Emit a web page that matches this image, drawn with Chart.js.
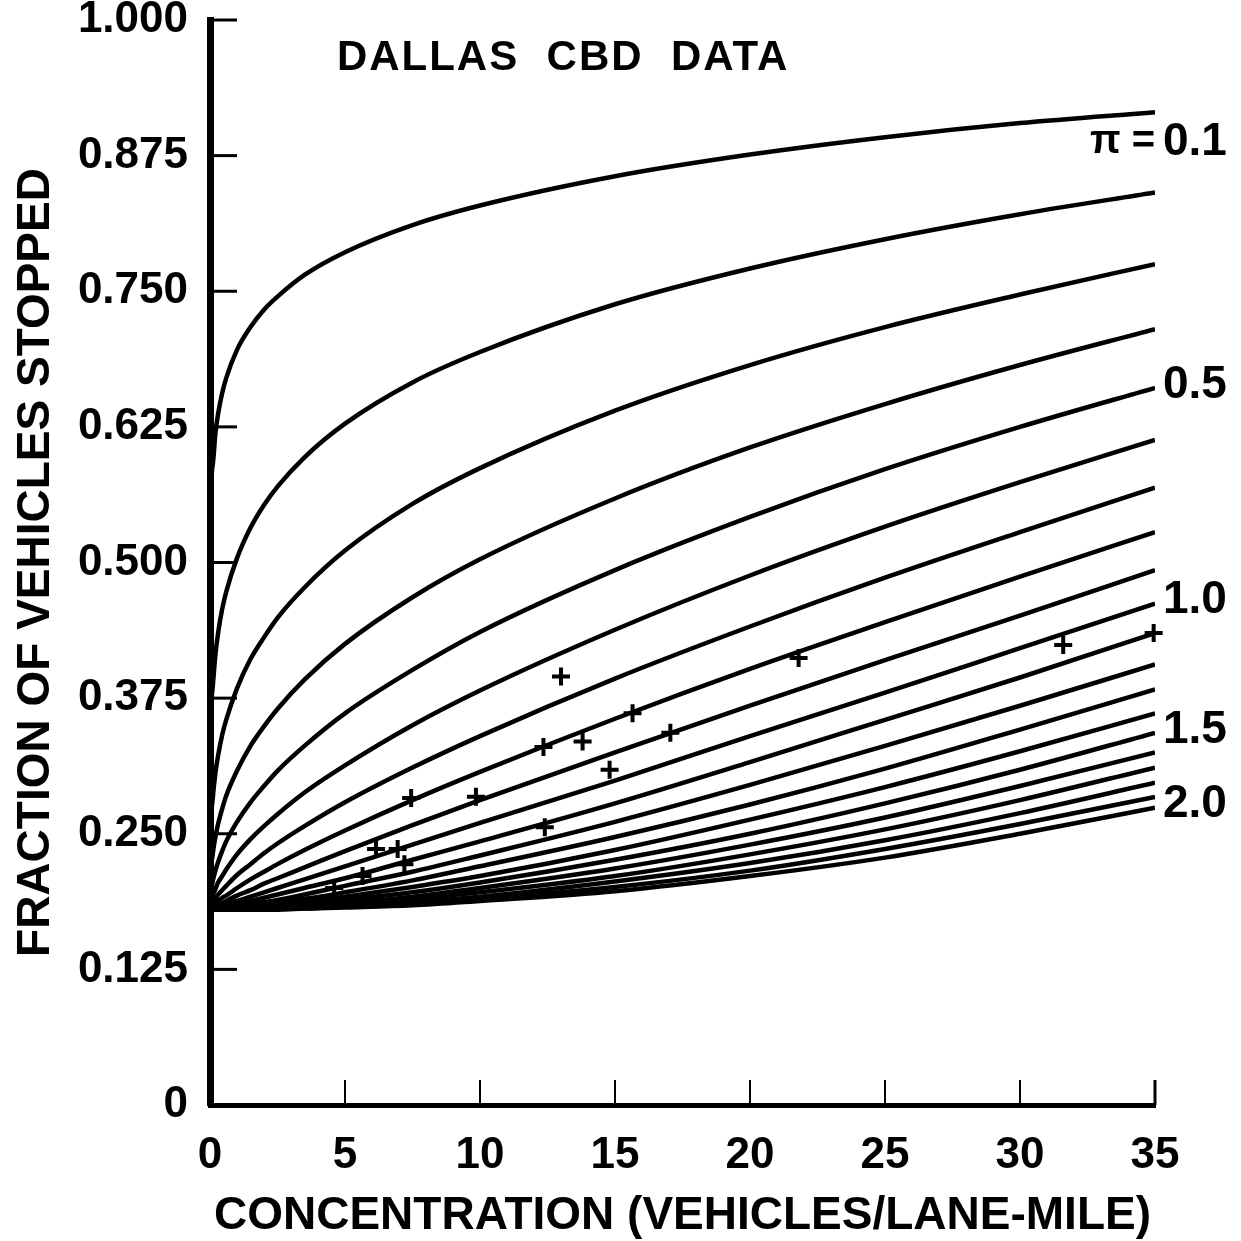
<!DOCTYPE html>
<html>
<head>
<meta charset="utf-8">
<title>Dallas CBD data</title>
<script src="https://cdn.jsdelivr.net/npm/chart.js@4.4.0/dist/chart.umd.min.js"></script>
<style>
  html, body { margin: 0; padding: 0; background: #fff; }
  #wrap { width: 1241px; height: 1241px; }
</style>
</head>
<body>
<div id="wrap"><canvas id="myChart" width="1241" height="1241"></canvas></div>
<script>
// concentration grid (vehicles/lane-mile) the curves are sampled on
const concGrid = [0, 0.03, 0.1, 0.2, 0.3, 0.45, 0.6, 1, 1.5, 2, 2.5, 3.5, 5, 7.5, 10, 15, 20, 25, 30, 35];

// one curve per value of pi
const piValues = [0.1, 0.2, 0.3, 0.4, 0.5, 0.6, 0.7, 0.8, 0.9, 1.0,
                  1.1, 1.2, 1.3, 1.4, 1.5, 1.6, 1.7, 1.8, 1.9, 2.0];

// fraction of vehicles stopped along each curve
const fs01 = [0.18, 0.543, 0.590, 0.619, 0.637, 0.656, 0.670, 0.696, 0.717, 0.733, 0.745, 0.765, 0.786, 0.811, 0.829, 0.856, 0.876, 0.892, 0.905, 0.915];
const fs02 = [0.18, 0.341, 0.385, 0.415, 0.435, 0.457, 0.473, 0.504, 0.532, 0.553, 0.570, 0.597, 0.628, 0.666, 0.694, 0.738, 0.771, 0.798, 0.821, 0.841];
const fs03 = [0.18, 0.251, 0.282, 0.306, 0.322, 0.341, 0.355, 0.384, 0.411, 0.431, 0.449, 0.477, 0.511, 0.554, 0.587, 0.640, 0.682, 0.717, 0.747, 0.775];
const fs04 = [0.18, 0.212, 0.231, 0.247, 0.259, 0.273, 0.285, 0.308, 0.331, 0.349, 0.365, 0.392, 0.425, 0.468, 0.503, 0.559, 0.606, 0.646, 0.682, 0.715];
const fs05 = [0.18, 0.194, 0.206, 0.216, 0.224, 0.234, 0.243, 0.261, 0.279, 0.294, 0.308, 0.331, 0.361, 0.401, 0.436, 0.493, 0.542, 0.586, 0.625, 0.661];
const fs06 = [0.18, 0.186, 0.193, 0.199, 0.205, 0.211, 0.217, 0.231, 0.245, 0.257, 0.268, 0.288, 0.313, 0.350, 0.382, 0.438, 0.488, 0.533, 0.574, 0.613];
const fs07 = [0.18, 0.183, 0.186, 0.190, 0.194, 0.198, 0.202, 0.212, 0.222, 0.232, 0.241, 0.257, 0.279, 0.311, 0.340, 0.393, 0.441, 0.486, 0.528, 0.569];
const fs08 = [0.18, 0.181, 0.183, 0.186, 0.188, 0.191, 0.193, 0.200, 0.208, 0.215, 0.222, 0.235, 0.253, 0.281, 0.307, 0.356, 0.402, 0.445, 0.487, 0.528];
const fs09 = [0.18, 0.181, 0.182, 0.183, 0.184, 0.186, 0.188, 0.193, 0.198, 0.204, 0.209, 0.219, 0.234, 0.258, 0.281, 0.325, 0.368, 0.410, 0.451, 0.493];
const fs10 = [0.18, 0.180, 0.181, 0.182, 0.182, 0.184, 0.185, 0.188, 0.192, 0.196, 0.200, 0.208, 0.220, 0.240, 0.260, 0.299, 0.340, 0.380, 0.421, 0.462];
const fs11 = [0.18, 0.180, 0.180, 0.181, 0.181, 0.182, 0.183, 0.185, 0.188, 0.191, 0.194, 0.200, 0.209, 0.226, 0.243, 0.278, 0.316, 0.355, 0.394, 0.435];
const fs12 = [0.18, 0.180, 0.180, 0.180, 0.181, 0.181, 0.182, 0.183, 0.185, 0.187, 0.189, 0.194, 0.202, 0.215, 0.230, 0.261, 0.295, 0.331, 0.368, 0.406];
const fs13 = [0.18, 0.180, 0.180, 0.180, 0.180, 0.181, 0.181, 0.182, 0.183, 0.185, 0.187, 0.190, 0.196, 0.207, 0.220, 0.247, 0.277, 0.310, 0.346, 0.383];
const fs14 = [0.18, 0.180, 0.180, 0.180, 0.180, 0.180, 0.181, 0.181, 0.182, 0.183, 0.185, 0.187, 0.192, 0.201, 0.211, 0.235, 0.263, 0.293, 0.326, 0.361];
const fs15 = [0.18, 0.180, 0.180, 0.180, 0.180, 0.180, 0.180, 0.181, 0.181, 0.182, 0.183, 0.185, 0.189, 0.196, 0.205, 0.226, 0.250, 0.278, 0.309, 0.343];
const fs16 = [0.18, 0.180, 0.180, 0.180, 0.180, 0.180, 0.180, 0.180, 0.181, 0.181, 0.182, 0.184, 0.186, 0.192, 0.200, 0.218, 0.240, 0.265, 0.294, 0.325];
const fs17 = [0.18, 0.180, 0.180, 0.180, 0.180, 0.180, 0.180, 0.180, 0.181, 0.181, 0.181, 0.183, 0.185, 0.190, 0.196, 0.211, 0.231, 0.254, 0.281, 0.311];
const fs18 = [0.18, 0.180, 0.180, 0.180, 0.180, 0.180, 0.180, 0.180, 0.180, 0.181, 0.181, 0.182, 0.184, 0.187, 0.192, 0.206, 0.223, 0.244, 0.269, 0.297];
const fs19 = [0.18, 0.180, 0.180, 0.180, 0.180, 0.180, 0.180, 0.180, 0.180, 0.180, 0.181, 0.181, 0.183, 0.186, 0.190, 0.201, 0.216, 0.236, 0.259, 0.284];
const fs20 = [0.18, 0.180, 0.180, 0.180, 0.180, 0.180, 0.180, 0.180, 0.180, 0.180, 0.180, 0.181, 0.182, 0.184, 0.188, 0.197, 0.211, 0.228, 0.250, 0.274];

const curveValues = [fs01, fs02, fs03, fs04, fs05, fs06, fs07, fs08, fs09, fs10,
                     fs11, fs12, fs13, fs14, fs15, fs16, fs17, fs18, fs19, fs20];

// observed Dallas CBD points
const obsConc    = [4.6, 5.65, 6.15, 6.95, 7.2, 7.45, 9.85, 12.35, 12.4, 13.0, 13.8, 14.8, 15.65, 17.05, 21.8, 31.6, 34.95];
const obsStopped = [0.200, 0.211, 0.236, 0.236, 0.222, 0.283, 0.284, 0.330, 0.256, 0.395, 0.335, 0.309, 0.361, 0.343, 0.412, 0.424, 0.435];

// axis ticks
const xTicks = [0, 5, 10, 15, 20, 25, 30, 35];
const yTicks = [0, 0.125, 0.25, 0.375, 0.5, 0.625, 0.75, 0.875, 1.0];

// which curves get a pi label at the right end
const labelledCurves = [0, 4, 9, 14, 19];

Chart.defaults.font.family = "'Liberation Sans', Arial, sans-serif";
Chart.defaults.color = '#000';

// inward tick marks on both axes
const innerTicks = {
    id: 'innerTicks',
    afterDraw(chart) {
        const ctx = chart.ctx;
        const area = chart.chartArea;
        const xs = chart.scales.x, ys = chart.scales.y;
        ctx.save();
        ctx.strokeStyle = '#000';
        ctx.lineWidth = 3;
        yTicks.forEach(v => {
            if (v === 0) return;
            const py = ys.getPixelForValue(v);
            ctx.beginPath();
            ctx.moveTo(area.left, py);
            ctx.lineTo(area.left + 27, py);
            ctx.stroke();
        });
        xTicks.forEach(v => {
            if (v === 0) return;
            const px = xs.getPixelForValue(v);
            ctx.lineWidth = v === 35 ? 3 : 2;
            ctx.beginPath();
            ctx.moveTo(px, area.bottom);
            ctx.lineTo(px, area.bottom - 25);
            ctx.stroke();
        });
        ctx.restore();
    }
};

// heading and pi labels
const annotations = {
    id: 'annotations',
    afterDraw(chart) {
        const ctx = chart.ctx;
        const xs = chart.scales.x, ys = chart.scales.y;
        ctx.save();
        ctx.fillStyle = '#000';
        ctx.textBaseline = 'middle';

        ctx.font = "bold 42px 'Liberation Sans', Arial, sans-serif";
        ctx.textAlign = 'left';
        if ('letterSpacing' in ctx) ctx.letterSpacing = '2px';
        ctx.fillText('DALLAS  CBD  DATA', xs.getPixelForValue(4.7), ys.getPixelForValue(0.965));
        if ('letterSpacing' in ctx) ctx.letterSpacing = '0px';

        const labelX = xs.getPixelForValue(35) + 8;
        labelledCurves.forEach((ci, k) => {
            const vals = curveValues[ci];
            let py = ys.getPixelForValue(vals[vals.length - 1]);
            py += k === 0 ? 30 : -3;
            ctx.font = "bold 46px 'Liberation Sans', Arial, sans-serif";
            ctx.textAlign = 'left';
            ctx.fillText(piValues[ci].toFixed(1), labelX, py);
            if (k === 0) {
                ctx.font = "bold 40px 'Liberation Sans', Arial, sans-serif";
                ctx.textAlign = 'right';
                ctx.fillText('\u03c0 =', labelX - 8, py);
            }
        });
        ctx.restore();
    }
};

const datasets = [{
    type: 'scatter',
    label: 'Dallas CBD',
    data: obsConc.map((c, i) => ({ x: c, y: obsStopped[i] })),
    pointStyle: 'cross',
    pointRadius: 9,
    pointBorderWidth: 4,
    borderColor: '#000',
    backgroundColor: '#000',
    clip: false
}];

curveValues.forEach((vals, i) => {
    datasets.push({
        type: 'line',
        label: 'pi = ' + piValues[i].toFixed(1),
        data: concGrid.map((c, j) => ({ x: c, y: vals[j] })),
        borderColor: '#000',
        borderWidth: 4.5,
        pointRadius: 0,
        fill: false,
        cubicInterpolationMode: 'monotone'
    });
});

var ctx = document.getElementById('myChart').getContext('2d');
var myChart = new Chart(ctx, {
    type: 'line',
    data: { datasets: datasets },
    options: {
        responsive: false,
        animation: false,
        devicePixelRatio: 1,
        layout: { padding: { top: 20, right: 86, left: 0, bottom: 0 } },
        plugins: {
            legend: { display: false },
            tooltip: { enabled: false }
        },
        scales: {
            x: {
                type: 'linear',
                min: 0,
                max: 35,
                afterFit(axis) {
                    axis.height = 136;
                    axis.paddingLeft = 0;
                    axis.paddingRight = 0;
                },
                afterBuildTicks(axis) {
                    axis.ticks = xTicks.map(v => ({ value: v }));
                },
                grid: { display: false, drawTicks: false },
                border: { display: true, width: 5, color: '#000' },
                ticks: {
                    padding: 24,
                    font: { size: 44, weight: 'bold' },
                    maxRotation: 0,
                    autoSkip: false
                },
                title: {
                    display: true,
                    text: 'CONCENTRATION (VEHICLES/LANE-MILE)',
                    font: { size: 46, weight: 'bold' },
                    padding: { top: 0, bottom: -3 }
                }
            },
            y: {
                min: 0,
                max: 1,
                afterFit(axis) {
                    axis.width = 210;
                    axis.paddingTop = 0;
                    axis.paddingBottom = 0;
                },
                afterBuildTicks(axis) {
                    axis.ticks = yTicks.map(v => ({ value: v }));
                },
                grid: { display: false, drawTicks: false },
                border: { display: true, width: 7, color: '#000' },
                ticks: {
                    padding: 22,
                    font: { size: 44, weight: 'bold' },
                    autoSkip: false,
                    callback: function(value) {
                        return value === 0 ? '0' : value.toFixed(3);
                    }
                },
                title: {
                    display: true,
                    text: 'FRACTION OF VEHICLES STOPPED',
                    font: { size: 46, weight: 'bold' },
                    padding: { top: 9, bottom: 0 }
                }
            }
        }
    },
    plugins: [innerTicks, annotations]
});
</script>
</body>
</html>
